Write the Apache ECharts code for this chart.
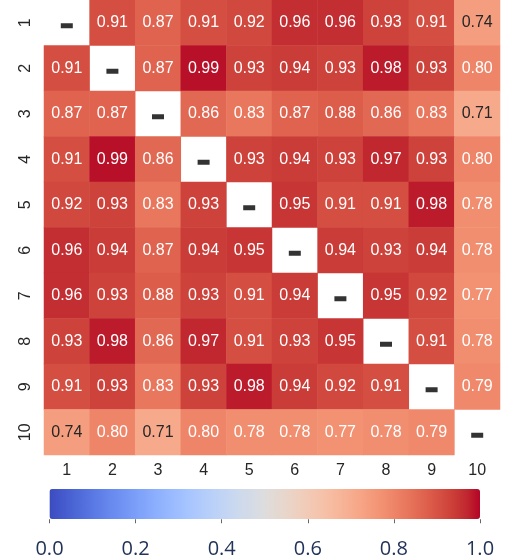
<!DOCTYPE html>
<html>
<head>
<meta charset="utf-8">
<script src="https://cdn.jsdelivr.net/npm/echarts@6/dist/echarts.min.js"></script>
<style>html,body{margin:0;padding:0;background:#fff;}#c{width:505px;height:559px;}</style>
</head>
<body>
<div id="c"></div>
<script>
var categories = ['1','2','3','4','5','6','7','8','9','10'];
var row1  = [null,0.91,0.87,0.91,0.92,0.96,0.96,0.93,0.91,0.74];
var row2  = [0.91,null,0.87,0.99,0.93,0.94,0.93,0.98,0.93,0.80];
var row3  = [0.87,0.87,null,0.86,0.83,0.87,0.88,0.86,0.83,0.71];
var row4  = [0.91,0.99,0.86,null,0.93,0.94,0.93,0.97,0.93,0.80];
var row5  = [0.92,0.93,0.83,0.93,null,0.95,0.91,0.91,0.98,0.78];
var row6  = [0.96,0.94,0.87,0.94,0.95,null,0.94,0.93,0.94,0.78];
var row7  = [0.96,0.93,0.88,0.93,0.91,0.94,null,0.95,0.92,0.77];
var row8  = [0.93,0.98,0.86,0.97,0.91,0.93,0.95,null,0.91,0.78];
var row9  = [0.91,0.93,0.83,0.93,0.98,0.94,0.92,0.91,null,0.79];
var row10 = [0.74,0.80,0.71,0.80,0.78,0.78,0.77,0.78,0.79,null];
var colorbarTicks = [0.0,0.2,0.4,0.6,0.8,1.0];

var rows = [row1,row2,row3,row4,row5,row6,row7,row8,row9,row10];
var heatData = [];
var diagData = [];
rows.forEach(function(r, yi){
  r.forEach(function(v, xi){
    if (v === null) { diagData.push([categories[xi], categories[yi]]); }
    else { heatData.push({value: [xi, yi, v], label: {color: v < 0.75 ? '#262626' : '#ffffff'}}); }
  });
});

var coolwarm = ['#3b4cc0','#445acc','#4d68d7','#5775e1','#6282ea','#6c8ef1','#779af7','#82a5fb','#8db0fe','#98b9ff','#a3c2ff','#aec9fd','#b8d0f9','#c2d5f4','#ccd9ee','#d5dbe6','#dddddd','#e5d8d1','#ecd3c5','#f1ccb9','#f5c4ad','#f7bba0','#f7b194','#f7a687','#f49a7b','#f18d6f','#ec7f63','#e57058','#de604d','#d55042','#cb3e38','#c0282f','#b40426'];

var chart = echarts.init(document.getElementById('c'));
chart.setOption({
  animation: false,
  backgroundColor: '#ffffff',
  grid: [
    {left: 44, top: 0, width: 456, height: 455},
    {left: 49.5, top: 519, width: 430.5, height: 1}
  ],
  xAxis: [
    {type: 'category', data: categories, gridIndex: 0,
     axisLine: {show: false}, axisTick: {show: false}, splitLine: {show: false},
     axisLabel: {color: '#262626', fontSize: 16, fontFamily: 'Liberation Sans, Arial', margin: 8}},
    {type: 'value', gridIndex: 1, min: 0, max: 1, interval: 0.2,
     axisLine: {show: false}, splitLine: {show: false},
     axisTick: {show: true, length: 4, lineStyle: {color: '#666', width: 1}},
     axisLabel: {color: '#22335a', fontSize: 20, fontFamily: 'Open Sans', margin: 20,
       formatter: function(v){ return v.toFixed(1); }}}
  ],
  yAxis: [
    {type: 'category', data: categories, inverse: true, gridIndex: 0,
     axisLine: {show: false}, axisTick: {show: false}, splitLine: {show: false},
     axisLabel: {color: '#262626', fontSize: 16, fontFamily: 'Liberation Sans, Arial', rotate: 90, margin: 10}},
    {type: 'value', gridIndex: 1, show: false, min: 0, max: 1}
  ],
  visualMap: {
    type: 'continuous', min: 0, max: 1, seriesIndex: 0,
    orient: 'horizontal', left: 49.5, top: 489, padding: 0,
    itemWidth: 30, itemHeight: 430.5, calculable: false, text: ['', ''],
    showLabel: false, textStyle: {fontSize: 1, color: 'transparent'},
    inRange: {color: coolwarm}
  },
  series: [
    {type: 'heatmap', xAxisIndex: 0, yAxisIndex: 0, data: heatData,
     itemStyle: {borderWidth: 0},
     label: {show: true, fontSize: 16, fontFamily: 'Liberation Sans, Arial',
       formatter: function(p){ return p.value[2].toFixed(2); }},
     emphasis: {disabled: true}},
    {type: 'scatter', xAxisIndex: 0, yAxisIndex: 0, data: diagData,
     symbol: 'rect', symbolSize: [12, 5], symbolOffset: [0, 3],
     itemStyle: {color: '#000000'}, silent: true}
  ]
});
</script>
</body>
</html>
